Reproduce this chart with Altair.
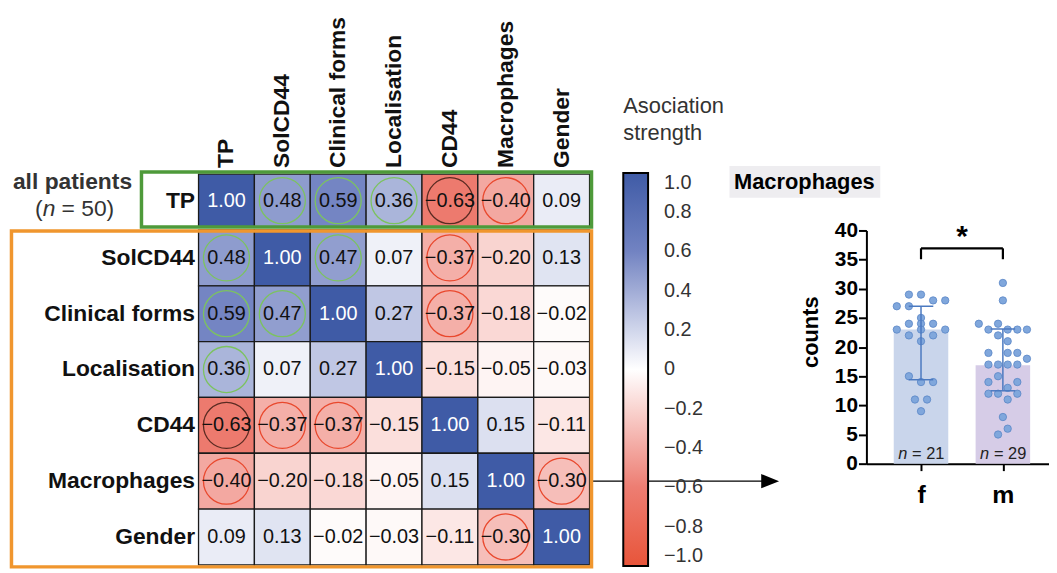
import altair as alt
import pandas as pd

# ---------------- data ----------------
variables = ["TP", "SolCD44", "Clinical forms", "Localisation", "CD44", "Macrophages", "Gender"]
r_TP = [1.00, 0.48, 0.59, 0.36, -0.63, -0.40, 0.09]
r_SolCD44 = [0.48, 1.00, 0.47, 0.07, -0.37, -0.20, 0.13]
r_Clinical = [0.59, 0.47, 1.00, 0.27, -0.37, -0.18, -0.02]
r_Localisation = [0.36, 0.07, 0.27, 1.00, -0.15, -0.05, -0.03]
r_CD44 = [-0.63, -0.37, -0.37, -0.15, 1.00, 0.15, -0.11]
r_Macrophages = [-0.40, -0.20, -0.18, -0.05, 0.15, 1.00, -0.30]
r_Gender = [0.09, 0.13, -0.02, -0.03, -0.11, -0.30, 1.00]
sig_TP = [0, 1, 1, 1, 2, 1, 0]
sig_SolCD44 = [1, 0, 1, 0, 1, 0, 0]
sig_Clinical = [1, 1, 0, 0, 1, 0, 0]
sig_Localisation = [1, 0, 0, 0, 0, 0, 0]
sig_CD44 = [2, 1, 1, 0, 0, 0, 0]
sig_Macrophages = [1, 0, 0, 0, 0, 0, 1]
sig_Gender = [0, 0, 0, 0, 0, 1, 0]
legend_values = [1.0, 0.8, 0.6, 0.4, 0.2, 0.0, -0.2, -0.4, -0.6, -0.8, -1.0]

groups = ["f", "m"]
group_n = [21, 29]
group_median = [23.0, 16.9]
group_q1 = [14.4, 12.5]
group_q3 = [27.0, 23.1]
count_ticks = [0, 5, 10, 15, 20, 25, 30, 35, 40]
f_counts = [29, 29, 28, 28, 27, 27, 25, 24, 24, 24, 23, 23, 23, 22, 22, 21, 15, 14, 14, 11, 11, 9]
f_slot = [-1, 0, 1, 2, -2, -1, 0, -1, 0, 1, -2, 0, 2, -1, 1, 0, -1, 0, 1, -0.5, 0.5, 0]
m_counts = [31, 28, 24, 24, 23, 23, 23, 23, 22, 21, 19, 19, 19, 18, 17, 17, 17, 17, 15, 14, 14,
            13, 12, 12, 12, 11, 8, 6, 5]
m_slot = [0, 0, -2.5, -0.5, -1.5, 0.5, 1.5, 2.5, -0.5, 0.5, -1.5, 0.5, 1.5, 2.5, -1.5, -0.5, 0.5, 1.5,
          -0.5, -1.5, 1.5, 0.5, -1.5, -0.5, 1.5, 0.5, 0, 0.5, -0.5]

matrix = [r_TP, r_SolCD44, r_Clinical, r_Localisation, r_CD44, r_Macrophages, r_Gender]
sigs = [sig_TP, sig_SolCD44, sig_Clinical, sig_Localisation, sig_CD44, sig_Macrophages, sig_Gender]

# ---------------- layout (page pixels) ----------------
W, H = 1049, 565
M = 8
CELL_X0, CELL_W = 200.0, 56.29
ROW_Y0, ROW_H = 229.5, 56.25


def hx(px):
    return (px - CELL_X0) / CELL_W


def hy(py):
    return (py - ROW_Y0) / ROW_H


AX_X0, STEP = 873.0, 82.5
Y0PX, YPX = 465.0, 5.875


def bxu(px):
    return (px - AX_X0) / STEP - 0.667


def byu(py):
    return (Y0PX - py) / YPX


FONT = "Liberation Sans"

# ---------------- heatmap ----------------
hxs = alt.Scale(domain=[0, 7], range=[CELL_X0 - M, CELL_X0 - M + 7 * CELL_W], nice=False, zero=False)
hys = alt.Scale(domain=[0, 6], range=[ROW_Y0 - M, ROW_Y0 - M + 6 * ROW_H], nice=False, zero=False)

cells = []
for ri, name in enumerate(variables):
    y0 = -1.0 if ri == 0 else ri - 1
    y1 = -0.05 if ri == 0 else ri
    for ci, col in enumerate(variables):
        v = matrix[ri][ci]
        s = sigs[ri][ci]
        cells.append(dict(row=name, col=col, r=v, x0=ci, x1=ci + 1, xc=ci + 0.5,
                          y0=y0, y1=y1, yc=(y0 + y1) / 2,
                          label=f"{v:.2f}".replace("-", "\u2212"),
                          sig=s,
                          ring=("none" if s == 0 else ("pos" if v > 0 else ("neg2" if s == 2 else "neg")))))
cells = pd.DataFrame(cells)

X = lambda f: alt.X(f, type="quantitative", scale=hxs, axis=None)
Y = lambda f: alt.Y(f, type="quantitative", scale=hys, axis=None)

color_scale = alt.Scale(domain=[-1, -0.6, 0, 0.6, 1],
                        range=["#E8553A", "#ED7D72", "#FFFFFF", "#7283C2", "#3F5BA6"],
                        interpolate="rgb")

rects = alt.Chart(cells).mark_rect(stroke="#1a1a1a", strokeWidth=1.3).encode(
    x=X("x0"), x2="x1", y=Y("y0"), y2="y1",
    color=alt.Color("r:Q", scale=color_scale, legend=alt.Legend(
        title=["Asociation", "strength"], orient="none", legendX=620, legendY=87,
        direction="vertical", gradientLength=396, gradientThickness=25,
        values=legend_values,
        labelExpr="datum.value == 0 ? '0' : format(datum.value, '.1f')",
        labelFontSize=20, labelColor="#333333", labelOffset=16,
        labelOverlap=False, labelFont=FONT,
        titleFontSize=22, titleFontWeight="normal", titleColor="#333333", titleFont=FONT,
        titleLineHeight=27, titlePadding=28, titleAlign="left", titleAnchor="start",
        gradientStrokeColor="black", gradientStrokeWidth=2)),
)

rings = alt.Chart(cells[cells["sig"] > 0]).mark_point(shape="circle", filled=False, size=2150,
                                                        strokeWidth=1.3, opacity=1).encode(
    x=X("xc"), y=Y("yc"),
    stroke=alt.Stroke("ring:N", scale=alt.Scale(domain=["pos", "neg", "neg2"],
                                                 range=["#7CC35F", "#E9482D", "#5B2B22"]), legend=None),
)

cell_text = alt.Chart(cells).mark_text(fontSize=20, font=FONT, baseline="middle").encode(
    x=X("xc"), y=Y("yc"), text="label:N",
    color=alt.condition("datum.r >= 0.99", alt.value("white"), alt.value("#111111")),
)

row_df = pd.DataFrame({"name": variables,
                       "yc": [(-1.0 - 0.05) / 2] + [i - 0.5 for i in range(1, 7)],
                       "lx": [hx(196.5)] * 7})
row_labels = alt.Chart(row_df).mark_text(fontSize=23, fontWeight="bold", font=FONT, align="right",
                                         baseline="middle", color="#111111").encode(
    x=X("lx"), y=Y("yc"), text="name:N")

col_df = pd.DataFrame({"name": variables, "xc": [i + 0.5 for i in range(7)], "ly": [hy(167)] * 7})
col_labels = alt.Chart(col_df).mark_text(fontSize=23, fontWeight="bold", font=FONT, align="left",
                                         baseline="middle", angle=270, color="#111111").encode(
    x=X("xc"), y=Y("ly"), text="name:N")

ap_df = pd.DataFrame({"x": [hx(73)], "y1": [hy(181.5)], "y2": [hy(208.5)]})
ap1 = alt.Chart(ap_df).mark_text(text="all patients", fontSize=23, fontWeight="bold", font=FONT,
                                 color="#333333", baseline="middle").encode(x=X("x"), y=Y("y1"))
ap2 = alt.Chart(ap_df).mark_text(text="(", fontSize=23, font=FONT, color="#333333", align="right",
                                 baseline="middle", dx=-30).encode(x=X("x"), y=Y("y2"))
ap3 = alt.Chart(ap_df).mark_text(text="n", fontSize=23, font=FONT, fontStyle="italic", color="#333333",
                                 align="left", baseline="middle", dx=-30).encode(x=X("x"), y=Y("y2"))
ap4 = alt.Chart(ap_df).mark_text(text="= 50)", fontSize=23, font=FONT, color="#333333", align="left",
                                 baseline="middle", dx=-11).encode(x=X("x"), y=Y("y2"))

green_df = pd.DataFrame({"x0": [hx(142.5)], "x1": [hx(596)], "y0": [hy(171)], "y1": [hy(226.5)]})
green_box = alt.Chart(green_df).mark_rect(filled=False, stroke="#4E9A3A", strokeWidth=3.5).encode(
    x=X("x0"), x2="x1", y=Y("y0"), y2="y1")
orange_df = pd.DataFrame({"x0": [hx(11.5)], "x1": [hx(596)], "y0": [hy(230.5)], "y1": [hy(569)]})
orange_box = alt.Chart(orange_df).mark_rect(filled=False, stroke="#F0962E", strokeWidth=3.5).encode(
    x=X("x0"), x2="x1", y=Y("y0"), y2="y1")

arrow_df = pd.DataFrame({"x0": [hx(597)], "x1": [hx(776)], "y": [variables.index("Macrophages") - 0.5]})
arrow_line = alt.Chart(arrow_df).mark_rule(color="black", strokeWidth=1.2).encode(
    x=X("x0"), x2="x1", y=Y("y"))
arrow_head = alt.Chart(arrow_df).mark_point(shape="M-1,-0.8L1,0L-1,0.8Z", filled=True, fill="black",
                                            stroke="black", strokeWidth=0, size=324, opacity=1).encode(
    x=X("x1"), y=Y("y"))

heat = alt.layer(rects, rings, cell_text, row_labels, col_labels, ap1, ap2, ap3, ap4,
                 arrow_line, arrow_head, green_box, orange_box)

# ---------------- bar chart ----------------
bxs = alt.Scale(domain=[-0.667, 2.0], range=[AX_X0 - M, AX_X0 - M + 2.667 * STEP], nice=False, zero=False)
bys = alt.Scale(domain=[0, 40], range=[Y0PX - M, Y0PX - M - 40 * YPX], nice=False, zero=False)

BX = lambda f: alt.X(f, type="quantitative", scale=bxs)
BY = lambda f: alt.Y(f, type="quantitative", scale=bys)

bar_df = pd.DataFrame({"g": groups, "gi": [0, 1], "n": group_n, "med": group_median,
                       "q1": group_q1, "q3": group_q3})
bar_df["x0"] = bar_df["gi"] - 0.333
bar_df["x1"] = bar_df["gi"] + 0.333
bar_df["c0"] = bar_df["gi"] - 0.15
bar_df["c1"] = bar_df["gi"] + 0.15
bar_df["zero"] = 0.0
bar_df["ntext"] = ["= " + str(n) for n in group_n]
bar_df["ny"] = byu(455)

bars = alt.Chart(bar_df).mark_rect().encode(
    x=alt.X("x0:Q", scale=bxs, axis=alt.Axis(
        values=[0, 1], labelExpr="datum.value == 0 ? 'f' : 'm'", title=None, orient="bottom",
        offset=-(H - (Y0PX - M)), domainColor="black", domainWidth=2, tickColor="black",
        tickWidth=2, tickSize=7, labelFontSize=25, labelFontWeight="bold", labelColor="black",
        labelFont=FONT, labelPadding=12, grid=False)),
    x2="x1",
    y=alt.Y("zero:Q", scale=bys, axis=alt.Axis(
        values=count_ticks, title="counts", orient="left", offset=-(AX_X0 - M),
        domainColor="black", domainWidth=2, tickColor="black", tickWidth=2, tickSize=8,
        labelFontSize=21, labelFontWeight="bold", labelColor="black", labelFont=FONT,
        labelPadding=1, grid=False, titleFontSize=22, titleFontWeight="bold", titleColor="black",
        titleFont=FONT, titleX=-56, titleY=324, titleAngle=270, titleBaseline="middle",
        titleAlign="center")),
    y2="med",
    fill=alt.Fill("g:N", scale=alt.Scale(domain=groups, range=["#C9D5EB", "#D6CCE7"]), legend=None),
)

pts = []
for gi, (vals, slots, sp) in enumerate([(f_counts, f_slot, 12.2), (m_counts, m_slot, 9.7)]):
    for v, s in zip(vals, slots):
        pts.append(dict(g=groups[gi], count=v, xp=gi + s * sp / STEP))
pts = pd.DataFrame(pts)
points = alt.Chart(pts).mark_circle(size=55, color="#80A7DC", stroke="#5A86C6", strokeWidth=0.8,
                                    opacity=1).encode(x=BX("xp"), y=BY("count"))

err_v = alt.Chart(bar_df).mark_rule(color="#4B79C0", strokeWidth=1.5).encode(
    x=BX("gi"), y=BY("q1"), y2="q3")
err_lo = alt.Chart(bar_df).mark_rule(color="#4B79C0", strokeWidth=1.5).encode(
    x=BX("c0"), x2="c1", y=BY("q1"))
err_hi = alt.Chart(bar_df).mark_rule(color="#4B79C0", strokeWidth=1.5).encode(
    x=BX("c0"), x2="c1", y=BY("q3"))

br_df = pd.DataFrame({"x0": [0], "x1": [1], "xm": [0.5], "top": [byu(248)], "bot": [byu(259)],
                      "star": [byu(246)]})
br_h = alt.Chart(br_df).mark_rule(color="black", strokeWidth=2.2).encode(x=BX("x0"), x2="x1", y=BY("top"))
br_l = alt.Chart(br_df).mark_rule(color="black", strokeWidth=2.2).encode(x=BX("x0"), y=BY("bot"), y2="top")
br_r = alt.Chart(br_df).mark_rule(color="black", strokeWidth=2.2).encode(x=BX("x1"), y=BY("bot"), y2="top")
star = alt.Chart(br_df).mark_text(text="*", fontSize=30, fontWeight="bold", font=FONT, color="black",
                                  baseline="alphabetic").encode(x=BX("xm"), y=BY("star"))

n_it = alt.Chart(bar_df).mark_text(text="n", fontSize=16.5, fontStyle="italic", font=FONT,
                                   color="#222222", align="left", baseline="middle", dx=-23).encode(
    x=BX("gi"), y=BY("ny"))
n_rest = alt.Chart(bar_df).mark_text(fontSize=16.5, font=FONT, color="#222222", align="left",
                                     baseline="middle", dx=-9).encode(
    x=BX("gi"), y=BY("ny"), text="ntext:N")

title_df = pd.DataFrame({"x0": [bxu(735)], "x1": [bxu(887)], "y0": [byu(165)], "y1": [byu(197)],
                         "xc": [bxu(810.5)], "yc": [byu(181)]})
title_box = alt.Chart(title_df).mark_rect(color="#EEEDF0").encode(
    x=BX("x0"), x2="x1", y=BY("y0"), y2="y1")
title_text = alt.Chart(title_df).mark_text(text="Macrophages", fontSize=22, fontWeight="bold", font=FONT,
                                           color="black", baseline="middle").encode(
    x=BX("xc"), y=BY("yc"))

barchart = alt.layer(bars, title_box, title_text, points, err_v, err_lo, err_hi,
                     br_h, br_l, br_r, star, n_it, n_rest)

chart = alt.layer(barchart, heat).resolve_scale(
    x="independent", y="independent"
).properties(
    width=W, height=H, padding=0, autosize=alt.AutoSizeParams(type="none")
).configure(font=FONT).configure_view(stroke=None)

chart.save("out.html", embed_options={"renderer": "svg", "actions": False})
